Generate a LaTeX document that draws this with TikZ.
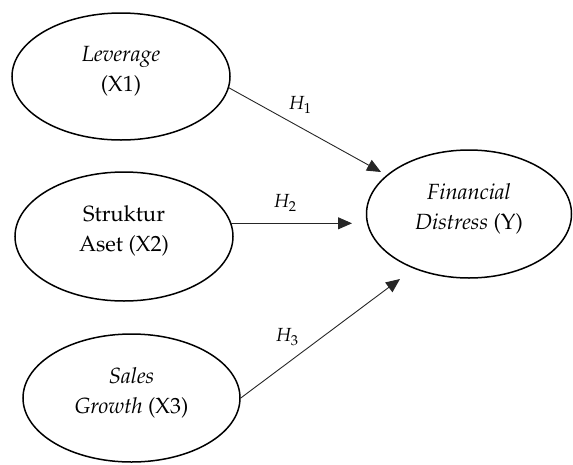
\documentclass[tikz,border=0pt]{standalone}
\usepackage[T1]{fontenc}
\usepackage{mathpazo}
\usetikzlibrary{shapes.geometric,arrows.meta}
\begin{document}
\begin{tikzpicture}[x=1pt,y=-1pt,
  var/.style={ellipse, draw, line width=1.5pt, align=center, inner sep=0pt,
    font=\fontsize{22}{30}\selectfont},
  arr/.style={-{Triangle[length=14pt,width=12pt]}, line width=0.9pt, draw=black!85},
  lab/.style={font=\fontsize{19}{22}\selectfont, inner sep=0pt}]
\useasboundingbox (0,0) rectangle (573,464);
\node[var, minimum width=218pt, minimum height=127pt] (x1) at (121,76.5) {\textit{Leverage}\\(X1)\\[-15pt]\mbox{}};
\node[var, minimum width=218pt, minimum height=129pt] (x2) at (124,236.5) {Struktur\\Aset (X2)\\[-15pt]\mbox{}};
\node[var, minimum width=217pt, minimum height=128pt] (x3) at (131.5,398) {\textit{Sales}\\\textit{Growth} (X3)\\[-15pt]\mbox{}};
\node[var, minimum width=205pt, minimum height=128pt] (y) at (469,214) {\textit{Financial}\\\textit{Distress} (Y)\\[-15pt]\mbox{}};
\coordinate (t1) at (381,172);
\coordinate (t2) at (352,223);
\coordinate (t3) at (400,279);
\draw[arr] (x1.-6) -- (t1);
\draw[arr] (x2.7.2) -- (x2.7.2 -| t2);
\draw[arr] (x3.east) -- (t3);
\node[lab] (h1) at (300,105) {$H_1$};
\node[lab] (h2) at (285,203) {$H_2$};
\node[lab] (h3) at (287,337) {$H_3$};
\end{tikzpicture}
\end{document}
